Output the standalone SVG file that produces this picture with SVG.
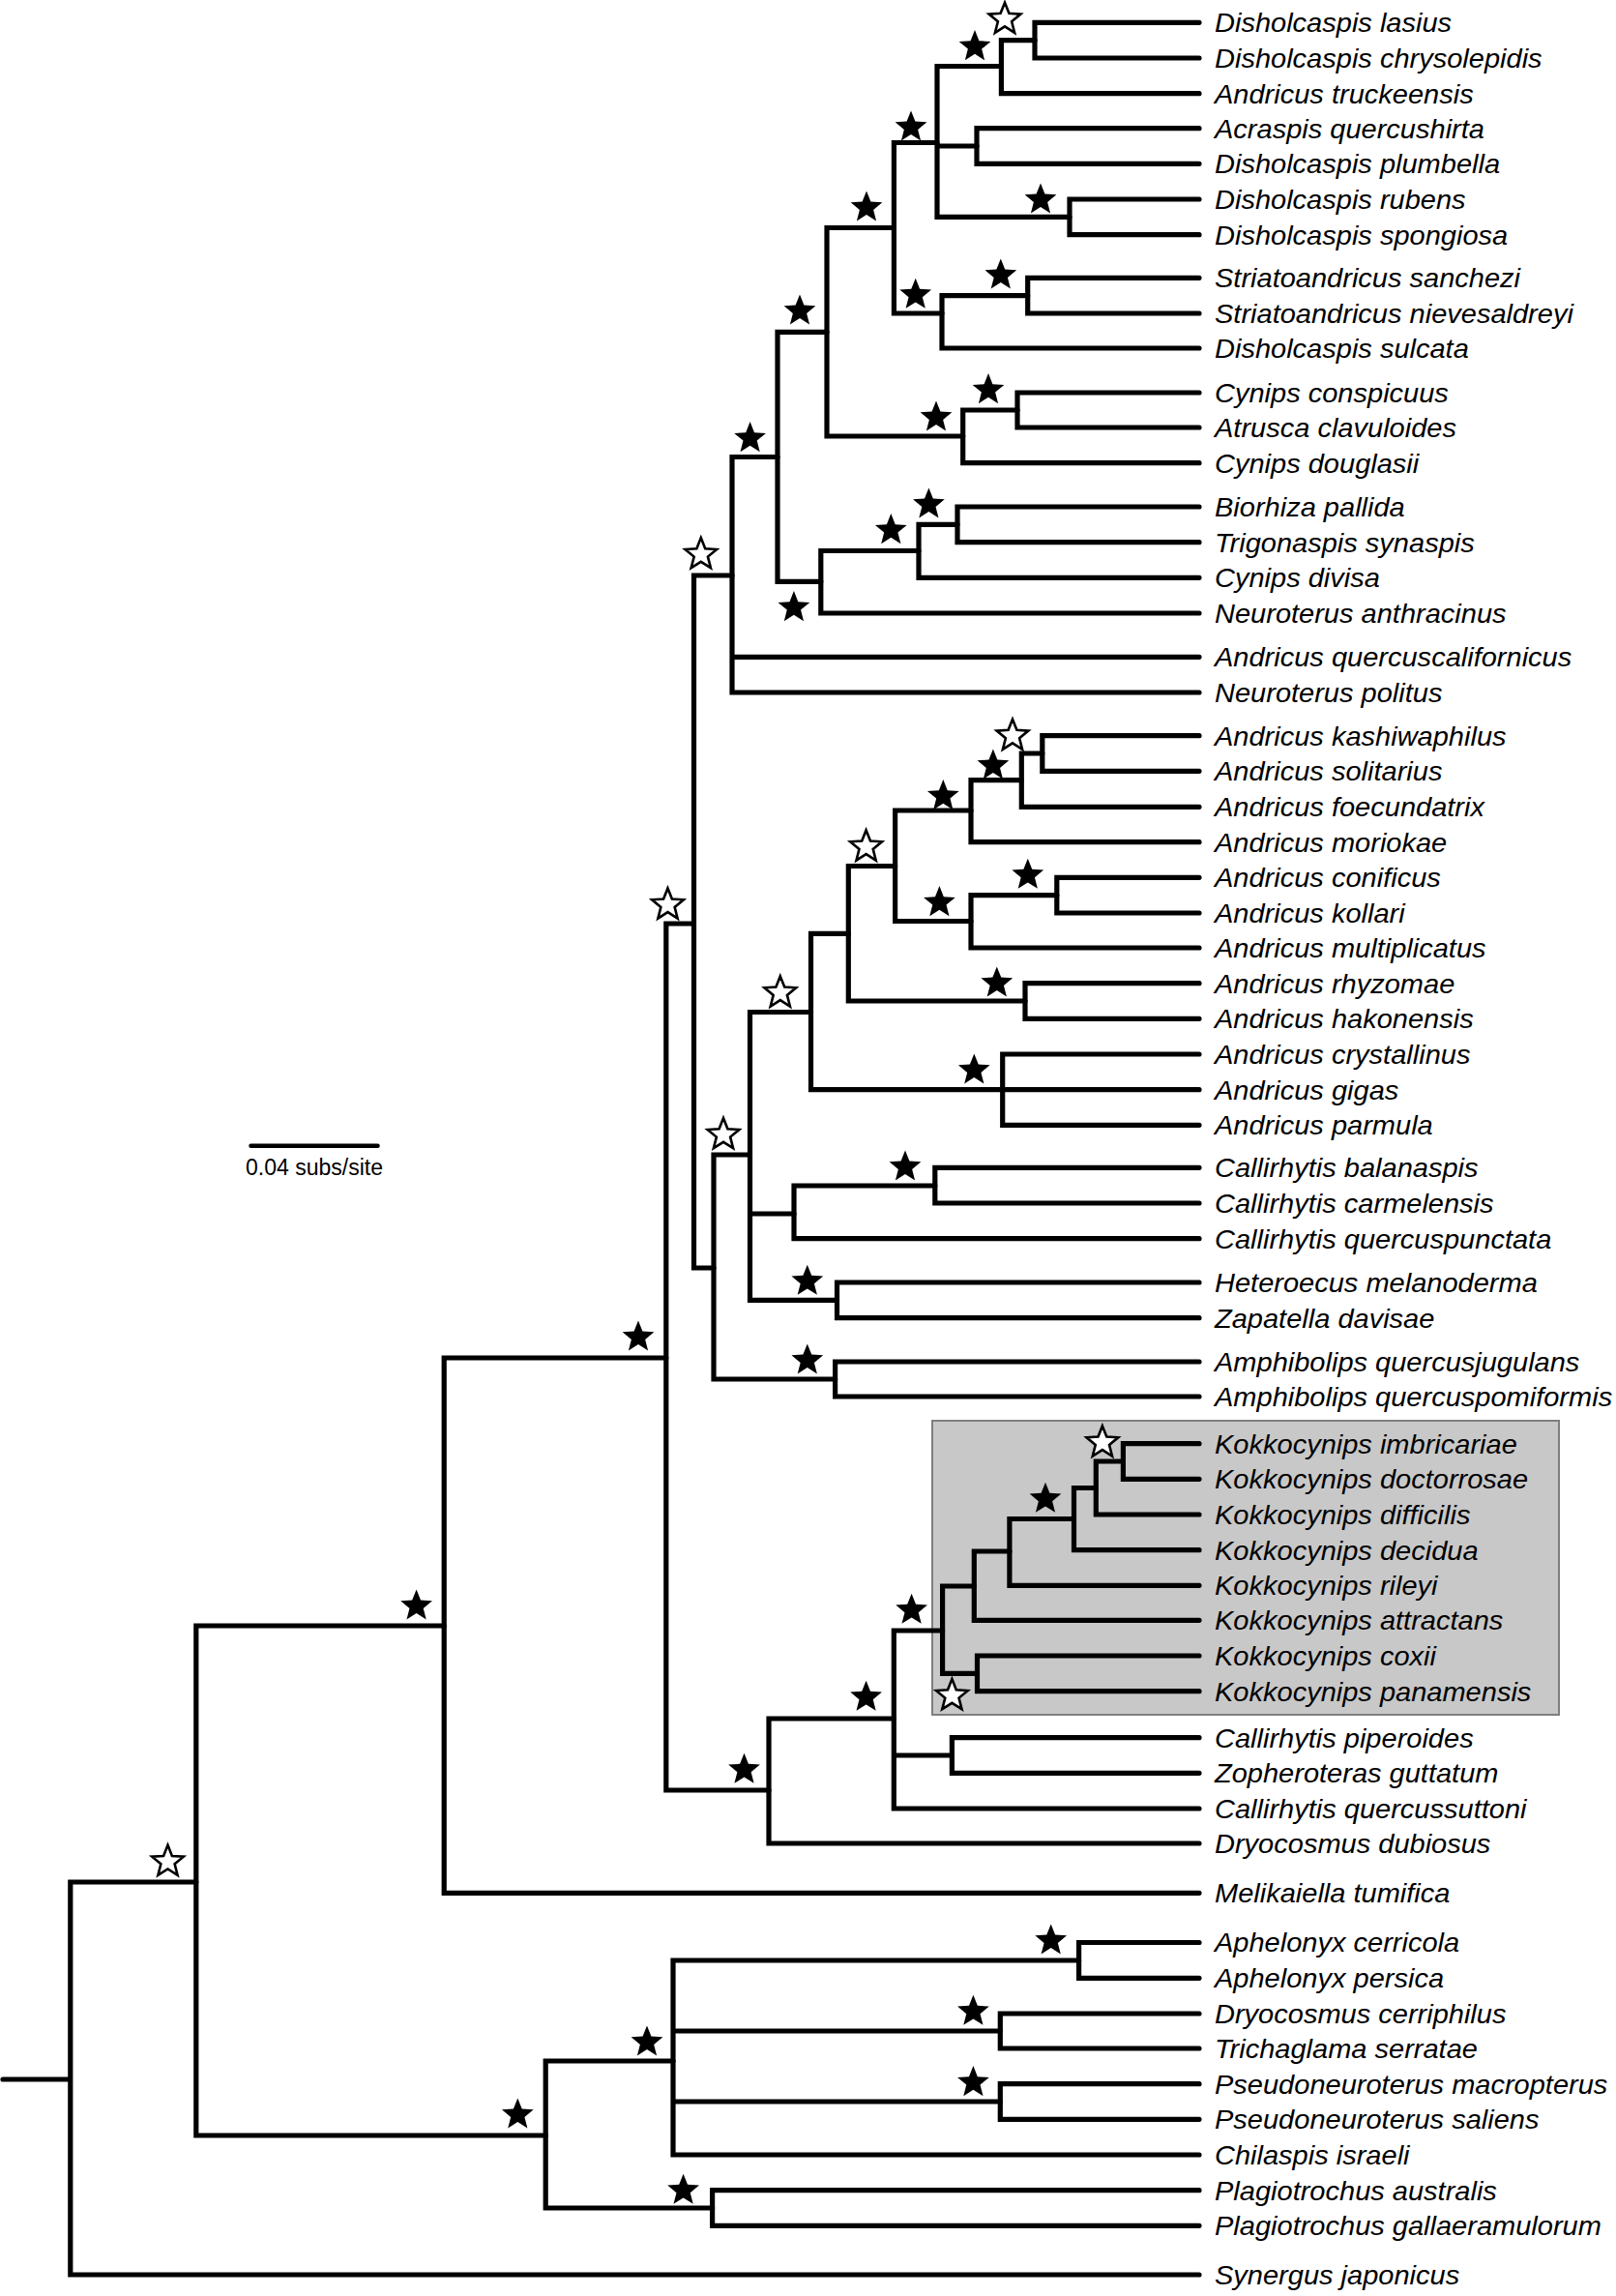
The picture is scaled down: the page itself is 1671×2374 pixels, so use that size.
<svg xmlns="http://www.w3.org/2000/svg" xmlns:xlink="http://www.w3.org/1999/xlink" width="1671" height="2374" viewBox="0 0 1671 2374">
<style>
.br{fill:none;stroke:#000;stroke-width:5.2;stroke-linecap:round;stroke-linejoin:miter}
.sp{font-family:"Liberation Sans",Arial,sans-serif;font-style:italic;font-size:27px;fill:#000}
.fs{fill:#000}
.os{fill:#fff;stroke:#000;stroke-width:2.6;stroke-linejoin:miter}
.sc{font-family:"Liberation Sans",Arial,sans-serif;font-size:23px;fill:#000}
</style>
<defs>
<path id="star" d="M0,-17.2 L4.41,-6.07 L16.36,-5.31 L7.13,2.32 L10.11,13.92 L0,7.5 L-10.11,13.92 L-7.13,2.32 L-16.36,-5.31 L-4.41,-6.07 Z"/>
</defs>
<rect width="1671" height="2374" fill="#fff"/>
<g id="kokkocynips-box"><rect x="964" y="1469" width="648" height="304" fill="#c8c8c8" stroke="#7f7f7f" stroke-width="2"/></g>
<g id="connectors" class="br">
<path d="M1240,23.3 H1070 V60 H1240"/>
<path d="M1070,41.7 H1035.4 V96.7 H1240"/>
<path d="M1240,132.7 H1010 V169.3 H1240"/>
<path d="M1240,206 H1106 V242.7 H1240"/>
<path d="M1035.4,68.5 H969 V224.3 H1106 M969,151 H1010"/>
<path d="M1240,287.3 H1062.7 V324 H1240"/>
<path d="M1062.7,305.7 H974 V360 H1240"/>
<path d="M969,147.5 H924.4 V324 H974"/>
<path d="M1240,406 H1052 V442 H1240"/>
<path d="M1052,424 H995.7 V478.7 H1240"/>
<path d="M924.4,235.5 H855 V451 H995.7"/>
<path d="M1240,524 H990 V560.7 H1240"/>
<path d="M990,542.3 H950 V597.3 H1240"/>
<path d="M950,569.5 H848.8 V634 H1240"/>
<path d="M855,343.3 H804 V601.3 H848.8"/>
<path d="M804,472.5 H757 V716 H1240 M757,679.3 H1240"/>
<path d="M1240,760.7 H1077.8 V797.3 H1240"/>
<path d="M1077.8,779 H1056.3 V834.3 H1240"/>
<path d="M1056.3,806.7 H1004 V870.7 H1240"/>
<path d="M1240,907.3 H1092.8 V944 H1240"/>
<path d="M1092.8,925.7 H1004 V980 H1240"/>
<path d="M1004,838 H925.6 V952.5 H1004"/>
<path d="M1240,1016.7 H1060 V1053.3 H1240"/>
<path d="M925.6,895.5 H877.3 V1035 H1060"/>
<path d="M1240,1090 H1036.7 V1163.3 H1240 M1036.7,1126.7 H1240"/>
<path d="M877.3,965.3 H838.5 V1126.7 H1036.7"/>
<path d="M1240,1207.3 H966.8 V1244 H1240"/>
<path d="M966.8,1226 H821 V1280.7 H1240"/>
<path d="M1240,1326 H865.5 V1362.7 H1240"/>
<path d="M838.5,1046.5 H775.5 V1344.3 H865.5 M775.5,1255 H821"/>
<path d="M1240,1408 H863.6 V1444 H1240"/>
<path d="M775.5,1194 H738 V1426 H863.6"/>
<path d="M757,595 H717.5 V1311 H738"/>
<path d="M1240,1492.7 H1161.4 V1529.3 H1240"/>
<path d="M1161.4,1511 H1133.3 V1566 H1240"/>
<path d="M1133.3,1538.5 H1110.5 V1602.7 H1240"/>
<path d="M1110.5,1570.5 H1043.9 V1639.3 H1240"/>
<path d="M1043.9,1604 H1007.3 V1675.3 H1240"/>
<path d="M1240,1712 H1010.5 V1748.7 H1240"/>
<path d="M1007.3,1640 H974.6 V1730.3 H1010.5"/>
<path d="M1240,1796.7 H984.4 V1833.3 H1240"/>
<path d="M974.6,1686 H924.3 V1870 H1240 M924.3,1815 H984.4"/>
<path d="M924.3,1777 H795 V1906 H1240"/>
<path d="M717.5,955 H688.8 V1851 H795"/>
<path d="M688.8,1404 H459.2 V1957.3 H1240"/>
<path d="M1240,2008.5 H1115.6 V2045.3 H1240"/>
<path d="M1240,2082 H1034.3 V2118 H1240"/>
<path d="M1240,2154.7 H1034.3 V2191.3 H1240"/>
<path d="M1115.6,2027 H696 V2228 H1240 M696,2100 H1034.3 M696,2173 H1034.3"/>
<path d="M1240,2264.7 H736.6 V2301.3 H1240"/>
<path d="M696,2131 H564.2 V2283 H736.6"/>
<path d="M459.2,1681 H202.8 V2208 H564.2"/>
<path d="M202.8,1946 H72.8 V2352 H1240 M3,2150 H72.8"/>
</g>
<g id="support">
<g id="node-A"><use xlink:href="#star" class="os" transform="translate(1039 19.9)"/></g>
<g id="node-B"><use xlink:href="#star" class="fs" transform="translate(1008 48.3)"/></g>
<g id="node-E"><use xlink:href="#star" class="fs" transform="translate(942 131.6)"/></g>
<g id="node-D"><use xlink:href="#star" class="fs" transform="translate(1076 206.6)"/></g>
<g id="node-F"><use xlink:href="#star" class="fs" transform="translate(1034.8 284.6)"/></g>
<g id="node-H"><use xlink:href="#star" class="fs" transform="translate(896 214.6)"/></g>
<g id="node-G"><use xlink:href="#star" class="fs" transform="translate(946.7 304.9)"/></g>
<g id="node-I"><use xlink:href="#star" class="fs" transform="translate(827 321.6)"/></g>
<g id="node-J1"><use xlink:href="#star" class="fs" transform="translate(1022 403.3)"/></g>
<g id="node-J"><use xlink:href="#star" class="fs" transform="translate(968 431.6)"/></g>
<g id="node-L2"><use xlink:href="#star" class="fs" transform="translate(960.4 521.6)"/></g>
<g id="node-L1"><use xlink:href="#star" class="fs" transform="translate(921.3 548.3)"/></g>
<g id="node-L"><use xlink:href="#star" class="fs" transform="translate(820.9 628.3)"/></g>
<g id="node-M"><use xlink:href="#star" class="fs" transform="translate(775.6 453.3)"/></g>
<g id="node-K"><use xlink:href="#star" class="os" transform="translate(724.8 573.3)"/></g>
<g id="node-a1"><use xlink:href="#star" class="os" transform="translate(1047 760.9)"/></g>
<g id="node-a2"><use xlink:href="#star" class="fs" transform="translate(1026.9 791.6)"/></g>
<g id="node-a3"><use xlink:href="#star" class="fs" transform="translate(975.3 823.3)"/></g>
<g id="node-a4"><use xlink:href="#star" class="fs" transform="translate(1062.8 904.9)"/></g>
<g id="node-a5"><use xlink:href="#star" class="fs" transform="translate(971.4 933.3)"/></g>
<g id="node-a6"><use xlink:href="#star" class="os" transform="translate(895.6 875.6)"/></g>
<g id="node-N"><use xlink:href="#star" class="os" transform="translate(690.5 935.6)"/></g>
<g id="node-a8"><use xlink:href="#star" class="fs" transform="translate(1030.8 1016.6)"/></g>
<g id="node-a9"><use xlink:href="#star" class="os" transform="translate(806.8 1026.6)"/></g>
<g id="node-a10"><use xlink:href="#star" class="fs" transform="translate(1007.3 1106.6)"/></g>
<g id="node-P"><use xlink:href="#star" class="os" transform="translate(748 1173.3)"/></g>
<g id="node-c1"><use xlink:href="#star" class="fs" transform="translate(936 1206.6)"/></g>
<g id="node-h"><use xlink:href="#star" class="fs" transform="translate(834.8 1324.9)"/></g>
<g id="node-am"><use xlink:href="#star" class="fs" transform="translate(834.8 1406.6)"/></g>
<g id="node-Q"><use xlink:href="#star" class="fs" transform="translate(660 1382.6)"/></g>
<g id="node-k1"><use xlink:href="#star" class="os" transform="translate(1139.9 1491.6)"/></g>
<g id="node-k3"><use xlink:href="#star" class="fs" transform="translate(1081 1549.9)"/></g>
<g id="node-k7"><use xlink:href="#star" class="fs" transform="translate(942.6 1664.9)"/></g>
<g id="node-k6"><use xlink:href="#star" class="os" transform="translate(984.4 1753.3)"/></g>
<g id="node-X"><use xlink:href="#star" class="fs" transform="translate(895.6 1754.9)"/></g>
<g id="node-R"><use xlink:href="#star" class="fs" transform="translate(769.5 1829.9)"/></g>
<g id="node-S"><use xlink:href="#star" class="fs" transform="translate(430.6 1660.6)"/></g>
<g id="node-T"><use xlink:href="#star" class="os" transform="translate(173.5 1925)"/></g>
<g id="node-U"><use xlink:href="#star" class="fs" transform="translate(535.3 2186.6)"/></g>
<g id="node-V"><use xlink:href="#star" class="fs" transform="translate(669 2111.6)"/></g>
<g id="node-ap"><use xlink:href="#star" class="fs" transform="translate(1086.7 2006.6)"/></g>
<g id="node-dr"><use xlink:href="#star" class="fs" transform="translate(1006.4 2079.9)"/></g>
<g id="node-ps"><use xlink:href="#star" class="fs" transform="translate(1006.4 2153.3)"/></g>
<g id="node-W"><use xlink:href="#star" class="fs" transform="translate(706.6 2264.9)"/></g>
</g>
<g id="labels" class="sp" transform="translate(0 0.8)">
<g id="t01"><text transform="translate(1256 32.3) scale(1.075 1)">Disholcaspis lasius</text></g>
<g id="t02"><text transform="translate(1256 69) scale(1.075 1)">Disholcaspis chrysolepidis</text></g>
<g id="t03"><text transform="translate(1256 105.7) scale(1.075 1)">Andricus truckeensis</text></g>
<g id="t04"><text transform="translate(1256 141.7) scale(1.075 1)">Acraspis quercushirta</text></g>
<g id="t05"><text transform="translate(1256 178.3) scale(1.075 1)">Disholcaspis plumbella</text></g>
<g id="t06"><text transform="translate(1256 215) scale(1.075 1)">Disholcaspis rubens</text></g>
<g id="t07"><text transform="translate(1256 251.7) scale(1.075 1)">Disholcaspis spongiosa</text></g>
<g id="t08"><text transform="translate(1256 296.3) scale(1.075 1)">Striatoandricus sanchezi</text></g>
<g id="t09"><text transform="translate(1256 333) scale(1.075 1)">Striatoandricus nievesaldreyi</text></g>
<g id="t10"><text transform="translate(1256 369) scale(1.075 1)">Disholcaspis sulcata</text></g>
<g id="t11"><text transform="translate(1256 415) scale(1.075 1)">Cynips conspicuus</text></g>
<g id="t12"><text transform="translate(1256 451) scale(1.075 1)">Atrusca clavuloides</text></g>
<g id="t13"><text transform="translate(1256 487.7) scale(1.075 1)">Cynips douglasii</text></g>
<g id="t14"><text transform="translate(1256 533) scale(1.075 1)">Biorhiza pallida</text></g>
<g id="t15"><text transform="translate(1256 569.7) scale(1.075 1)">Trigonaspis synaspis</text></g>
<g id="t16"><text transform="translate(1256 606.3) scale(1.075 1)">Cynips divisa</text></g>
<g id="t17"><text transform="translate(1256 643) scale(1.075 1)">Neuroterus anthracinus</text></g>
<g id="t18"><text transform="translate(1256 688.3) scale(1.075 1)">Andricus quercuscalifornicus</text></g>
<g id="t19"><text transform="translate(1256 725) scale(1.075 1)">Neuroterus politus</text></g>
<g id="t20"><text transform="translate(1256 769.7) scale(1.075 1)">Andricus kashiwaphilus</text></g>
<g id="t21"><text transform="translate(1256 806.3) scale(1.075 1)">Andricus solitarius</text></g>
<g id="t22"><text transform="translate(1256 843.3) scale(1.075 1)">Andricus foecundatrix</text></g>
<g id="t23"><text transform="translate(1256 879.7) scale(1.075 1)">Andricus moriokae</text></g>
<g id="t24"><text transform="translate(1256 916.3) scale(1.075 1)">Andricus conificus</text></g>
<g id="t25"><text transform="translate(1256 953) scale(1.075 1)">Andricus kollari</text></g>
<g id="t26"><text transform="translate(1256 989) scale(1.075 1)">Andricus multiplicatus</text></g>
<g id="t27"><text transform="translate(1256 1025.7) scale(1.075 1)">Andricus rhyzomae</text></g>
<g id="t28"><text transform="translate(1256 1062.3) scale(1.075 1)">Andricus hakonensis</text></g>
<g id="t29"><text transform="translate(1256 1099) scale(1.075 1)">Andricus crystallinus</text></g>
<g id="t30"><text transform="translate(1256 1135.7) scale(1.075 1)">Andricus gigas</text></g>
<g id="t31"><text transform="translate(1256 1172.3) scale(1.075 1)">Andricus parmula</text></g>
<g id="t32"><text transform="translate(1256 1216.3) scale(1.075 1)">Callirhytis balanaspis</text></g>
<g id="t33"><text transform="translate(1256 1253) scale(1.075 1)">Callirhytis carmelensis</text></g>
<g id="t34"><text transform="translate(1256 1289.7) scale(1.075 1)">Callirhytis quercuspunctata</text></g>
<g id="t35"><text transform="translate(1256 1335) scale(1.075 1)">Heteroecus melanoderma</text></g>
<g id="t36"><text transform="translate(1256 1371.7) scale(1.075 1)">Zapatella davisae</text></g>
<g id="t37"><text transform="translate(1256 1417) scale(1.075 1)">Amphibolips quercusjugulans</text></g>
<g id="t38"><text transform="translate(1256 1453) scale(1.075 1)">Amphibolips quercuspomiformis</text></g>
<g id="t39"><text transform="translate(1256 1501.7) scale(1.075 1)">Kokkocynips imbricariae</text></g>
<g id="t40"><text transform="translate(1256 1538.3) scale(1.075 1)">Kokkocynips doctorrosae</text></g>
<g id="t41"><text transform="translate(1256 1575) scale(1.075 1)">Kokkocynips difficilis</text></g>
<g id="t42"><text transform="translate(1256 1611.7) scale(1.075 1)">Kokkocynips decidua</text></g>
<g id="t43"><text transform="translate(1256 1648.3) scale(1.075 1)">Kokkocynips rileyi</text></g>
<g id="t44"><text transform="translate(1256 1684.3) scale(1.075 1)">Kokkocynips attractans</text></g>
<g id="t45"><text transform="translate(1256 1721) scale(1.075 1)">Kokkocynips coxii</text></g>
<g id="t46"><text transform="translate(1256 1757.7) scale(1.075 1)">Kokkocynips panamensis</text></g>
<g id="t47"><text transform="translate(1256 1805.7) scale(1.075 1)">Callirhytis piperoides</text></g>
<g id="t48"><text transform="translate(1256 1842.3) scale(1.075 1)">Zopheroteras guttatum</text></g>
<g id="t49"><text transform="translate(1256 1879) scale(1.075 1)">Callirhytis quercussuttoni</text></g>
<g id="t50"><text transform="translate(1256 1915) scale(1.075 1)">Dryocosmus dubiosus</text></g>
<g id="t51"><text transform="translate(1256 1966.3) scale(1.075 1)">Melikaiella tumifica</text></g>
<g id="t52"><text transform="translate(1256 2017.5) scale(1.075 1)">Aphelonyx cerricola</text></g>
<g id="t53"><text transform="translate(1256 2054.3) scale(1.075 1)">Aphelonyx persica</text></g>
<g id="t54"><text transform="translate(1256 2091) scale(1.075 1)">Dryocosmus cerriphilus</text></g>
<g id="t55"><text transform="translate(1256 2127) scale(1.075 1)">Trichaglama serratae</text></g>
<g id="t56"><text transform="translate(1256 2163.7) scale(1.075 1)">Pseudoneuroterus macropterus</text></g>
<g id="t57"><text transform="translate(1256 2200.3) scale(1.075 1)">Pseudoneuroterus saliens</text></g>
<g id="t58"><text transform="translate(1256 2237) scale(1.075 1)">Chilaspis israeli</text></g>
<g id="t59"><text transform="translate(1256 2273.7) scale(1.075 1)">Plagiotrochus australis</text></g>
<g id="t60"><text transform="translate(1256 2310.3) scale(1.075 1)">Plagiotrochus gallaeramulorum</text></g>
<g id="t61"><text transform="translate(1256 2361) scale(1.075 1)">Synergus japonicus</text></g>
</g>
<g id="scale-bar">
<path d="M259.5,1184.7 H390.5" fill="none" stroke="#000" stroke-width="4.5" stroke-linecap="round"/>
<text class="sc" x="254" y="1215">0.04 subs/site</text>
</g>
</svg>
